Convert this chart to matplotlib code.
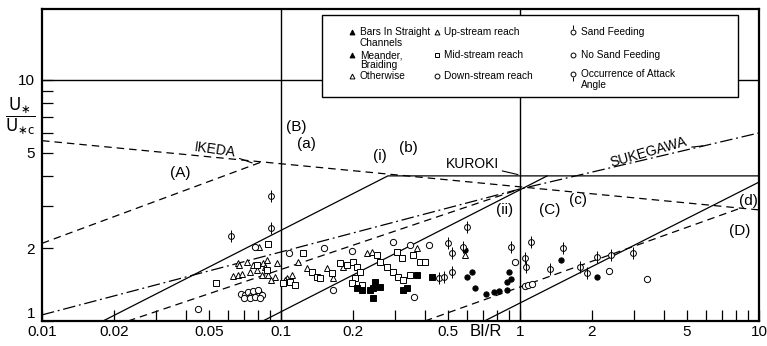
import numpy as np
import matplotlib.pyplot as plt
import matplotlib.transforms as mtrans
from matplotlib.patches import Rectangle

plt.rcParams['font.family'] = ['Liberation Sans', 'DejaVu Sans']

# ---- regime lines (BI/R, U*/U*c) vertices ----
ikeda_x = [0.01, 10]
ikeda_y = [5.6, 2.89]
lineA_x = [0.01, 0.082]
lineA_y = [2.1, 4.55]
dash_low_x = [0.0229, 1.0]
dash_low_y = [1.0, 3.53]
lineD_x = [0.40, 8.3]
lineD_y = [1.0, 2.93]
dashdot_x = [0.01, 1.0, 10]
dashdot_y = [1.06, 3.53, 6.03]
solid_a_x = [0.018, 0.28, 10]
solid_a_y = [1.0, 4.0, 4.0]
solid_i_x = [0.084, 1.3]
solid_i_y = [1.0, 4.0]
solid_C_x = [0.71, 10]
solid_C_y = [1.0, 3.77]

# ---- data points ----
tri_x = [0.066, 0.072, 0.067, 0.076, 0.084, 0.087, 0.096, 0.063, 0.066, 0.069, 0.074,
         0.083, 0.088, 0.094, 0.079, 0.086, 0.091, 0.081,
         0.118, 0.106, 0.104, 0.111, 0.129, 0.156, 0.182, 0.229, 0.24, 0.37, 0.59, 0.165]
tri_y = [1.74, 1.76, 1.70, 1.70, 1.74, 1.79, 1.74, 1.54, 1.55, 1.57, 1.60,
         1.55, 1.55, 1.52, 1.63, 1.67, 1.48, 2.02,
         1.76, 1.51, 1.48, 1.55, 1.66, 1.66, 1.68, 1.92, 1.93, 2.0, 1.88, 1.51]
sq_x = [0.088, 0.0535, 0.079, 0.087, 0.124, 0.109, 0.102, 0.114, 0.135, 0.141, 0.146,
        0.163, 0.177, 0.189, 0.20, 0.208, 0.214, 0.204, 0.198, 0.218, 0.252, 0.26,
        0.278, 0.306, 0.321, 0.357, 0.382, 0.40, 0.294, 0.309, 0.324, 0.346]
sq_y = [2.08, 1.44, 1.70, 1.63, 1.92, 1.45, 1.44, 1.41, 1.60, 1.52, 1.51,
        1.58, 1.74, 1.71, 1.76, 1.68, 1.60, 1.51, 1.44, 1.41, 1.88, 1.76,
        1.68, 1.93, 1.82, 1.88, 1.76, 1.76, 1.60, 1.52, 1.48, 1.55]
circ_x = [0.078, 0.045, 0.108, 0.151, 0.198, 0.294, 0.346, 0.165, 0.36, 0.416,
          0.068, 0.071, 0.073, 0.075, 0.077, 0.079, 0.081, 0.083, 0.070, 0.074,
          0.078, 0.082, 0.076, 0.080,
          0.95, 1.05, 1.08, 1.12, 2.35, 3.4]
circ_y = [2.02, 1.12, 1.92, 2.0, 1.95, 2.13, 2.07, 1.35, 1.26, 2.07,
          1.30, 1.28, 1.32, 1.27, 1.30, 1.29, 1.31, 1.28, 1.25, 1.24,
          1.26, 1.25, 1.33, 1.34,
          1.76, 1.40, 1.41, 1.42, 1.61, 1.50]
fsq_x = [0.247, 0.26, 0.243, 0.236, 0.218, 0.208, 0.243, 0.324, 0.337, 0.37, 0.43]
fsq_y = [1.45, 1.38, 1.37, 1.35, 1.35, 1.37, 1.25, 1.35, 1.37, 1.55, 1.52]
fcirc_x = [0.59, 0.60, 0.65, 0.63, 0.72, 0.78, 0.82, 0.88, 1.48, 2.1, 0.90, 0.92, 0.88]
fcirc_y = [1.97, 1.52, 1.37, 1.60, 1.30, 1.32, 1.33, 1.34, 1.79, 1.52, 1.60, 1.50, 1.45]
phi_x = [0.062, 0.091, 0.091, 0.50, 0.52, 0.577, 0.60, 0.46, 0.48, 0.52, 0.92,
         1.11, 1.05, 1.06, 1.51, 1.33, 1.79, 2.1, 2.4, 2.98, 1.9]
phi_y = [2.25, 2.43, 3.3, 2.1, 1.92, 2.03, 2.45, 1.51, 1.52, 1.60, 2.03,
         2.13, 1.83, 1.68, 2.0, 1.64, 1.68, 1.84, 1.88, 1.91, 1.58]

xticks = [0.01, 0.02, 0.05, 0.1, 0.2, 0.5, 1, 2, 5, 10]
xticklabels = ['0.01', '0.02', '0.05', '0.1', '0.2', '0.5', '1', '2', '5', '10']
yticks = [1, 2, 5, 10]
yticklabels = ['1', '2', '5', '10']

fig = plt.figure(figsize=(7.67, 3.46), dpi=100)
ax = fig.add_axes([42/767, 25/346, 717/767, 312/346])
ax.set_xscale('log')
ax.set_yscale('log')
ax.set_xlim(0.01, 10)
ax.set_ylim(1, 19.7)

k = 'black'
lw = 0.9
ax.axvline(0.1, color=k, lw=1.0)
ax.axvline(1.0, color=k, lw=1.0)
ax.axhline(10, color=k, lw=1.0)

dash = (0, (6, 4))
ax.plot(ikeda_x, ikeda_y, color=k, lw=lw, ls=dash)
ax.plot(lineA_x, lineA_y, color=k, lw=lw, ls=dash)
ax.plot(dash_low_x, dash_low_y, color=k, lw=lw, ls=dash)
ax.plot(lineD_x, lineD_y, color=k, lw=lw, ls=dash)
ax.plot(dashdot_x, dashdot_y, color=k, lw=lw, ls=(0, (10, 3, 1.5, 3)))
ax.plot(solid_a_x, solid_a_y, color=k, lw=lw)
ax.plot(solid_i_x, solid_i_y, color=k, lw=lw)
ax.plot(solid_C_x, solid_C_y, color=k, lw=lw)

mk = dict(ls='none', color=k, mew=0.7, zorder=3)
ax.plot(tri_x, tri_y, marker='^', ms=4.5, mfc='white', **mk)
ax.plot(sq_x, sq_y, marker='s', ms=4.2, mfc='white', **mk)
ax.plot(circ_x, circ_y, marker='o', ms=4.5, mfc='white', **mk)
ax.plot(fsq_x, fsq_y, marker='s', ms=3.8, mfc=k, **mk)
ax.plot(fcirc_x, fcirc_y, marker='o', ms=3.8, mfc=k, **mk)
ax.plot(phi_x, phi_y, marker='o', ms=4.2, mfc='white', **mk)
ax.plot(phi_x, phi_y, marker='|', ms=9, **mk)

# labels on the diagram
fs = 11
ax.text(0.038, 4.1, '(A)', fontsize=fs, ha='center', va='center')
ax.text(0.116, 6.4, '(B)', fontsize=fs, ha='center', va='center')
ax.text(0.128, 5.4, '(a)', fontsize=fs, ha='center', va='center')
ax.text(0.26, 4.85, '(i)', fontsize=fs, ha='center', va='center')
ax.text(0.34, 5.2, '(b)', fontsize=fs, ha='center', va='center')
ax.text(0.86, 2.89, '(ii)', fontsize=fs, ha='center', va='center')
ax.text(1.33, 2.89, '(C)', fontsize=fs, ha='center', va='center')
ax.text(1.75, 3.18, '(c)', fontsize=fs, ha='center', va='center')
ax.text(9.0, 3.15, '(d)', fontsize=fs, ha='center', va='center')
ax.text(8.3, 2.36, '(D)', fontsize=fs, ha='center', va='center')
ax.annotate('IKEDA', xy=(0.0757, 4.53), xytext=(0.053, 5.12), fontsize=10,
            ha='center', va='center', rotation=-8,
            arrowprops=dict(arrowstyle='-', color=k, lw=0.8, shrinkA=14, shrinkB=0))
ax.annotate('KUROKI', xy=(0.98, 4.05), xytext=(0.635, 4.48), fontsize=10,
            ha='center', va='center',
            arrowprops=dict(arrowstyle='-', color=k, lw=0.8, shrinkA=16, shrinkB=0))
ax.annotate('SUKEGAWA', xy=(5.83, 5.33), xytext=(3.46, 5.03), fontsize=10,
            ha='center', va='center', rotation=16,
            arrowprops=dict(arrowstyle='-', color=k, lw=0.8, shrinkA=22, shrinkB=0))

# legend box
def axp(px, py):
    return (px - 42) / 717, (321 - py) / 312

x0, y0 = axp(322, 97)
x1, y1 = axp(738, 15)
ax.add_patch(Rectangle((x0, y0), x1 - x0, y1 - y0, transform=ax.transAxes,
                       facecolor='white', edgecolor=k, lw=1.0, zorder=5))
lfs = 7.3
entries = [
    (352, 32, '^', k, 'Bars In Straight'), (None, 43, None, None, 'Channels'),
    (352, 55, '^', k, 'Meander,'), (None, 65.5, None, None, 'Braiding'),
    (352, 76, '^', 'white', 'Otherwise'),
    (437, 32, '^', 'white', 'Up-stream reach'), (437, 55, 's', 'white', 'Mid-stream reach'),
    (437, 76, 'o', 'white', 'Down-stream reach'),
    (573, 32, 'up', 'white', 'Sand Feeding'), (573, 55, 'o', 'white', 'No Sand Feeding'),
    (573, 74, 'down', 'white', 'Occurrence of Attack'), (None, 85, None, None, 'Angle'),
]
text_x = {352: 360, 437: 444, 573: 581}
last_col = 352
for mx, my, m, fc, label in entries:
    if mx is not None:
        last_col = mx
        px, py = axp(mx, my)
        if m in ('up', 'down'):
            ax.plot(px, py, marker='o', ms=3.5, mfc='white', mec=k, mew=0.7,
                    transform=ax.transAxes, zorder=6)
            off = 0.016 if m == 'up' else -0.016
            ax.plot(px, py + off, marker='|', ms=3, mec=k, mew=0.7,
                    transform=ax.transAxes, zorder=6)
        else:
            ax.plot(px, py, marker=m, ms=3.5, mfc=fc, mec=k, mew=0.7,
                    transform=ax.transAxes, zorder=6)
    tx, ty = axp(text_x[last_col], my)
    ax.text(tx, ty, label, fontsize=lfs, ha='left', va='center',
            transform=ax.transAxes, zorder=6)

# axes styling
for s in ['top', 'right', 'bottom', 'left']:
    ax.spines[s].set_linewidth(1.6)
ax.set_xticks(xticks)
ax.set_xticklabels(xticklabels)
ax.set_yticks(yticks)
ax.set_yticklabels(yticklabels)
ax.tick_params(axis='both', which='both', direction='in', length=8, width=0.9,
               labelsize=11, top=False, right=False)
ax.tick_params(axis='x', pad=3)
ax.tick_params(axis='y', pad=5)
ax.yaxis.set_minor_locator(plt.FixedLocator([3, 4, 6, 7, 8, 9]))
ax.yaxis.set_minor_formatter(plt.NullFormatter())
ax.xaxis.set_minor_formatter(plt.NullFormatter())
# lift the "1" label clear of "0.01" as in the original
lab1 = ax.get_yticklabels()[0]
lab1.set_transform(lab1.get_transform() +
                   mtrans.ScaledTranslation(0, 6/72, fig.dpi_scale_trans))

fig.text(486/767, 1 - 331/346, 'BI/R', fontsize=12, ha='center', va='center')
fig.text(20/767, 1 - 116/346,
         r'$\dfrac{\mathrm{U}_{\ast}}{\mathrm{U}_{\ast\mathrm{c}}}$', fontsize=12,
         ha='center', va='center')

fig.savefig('out.png', dpi=100)
